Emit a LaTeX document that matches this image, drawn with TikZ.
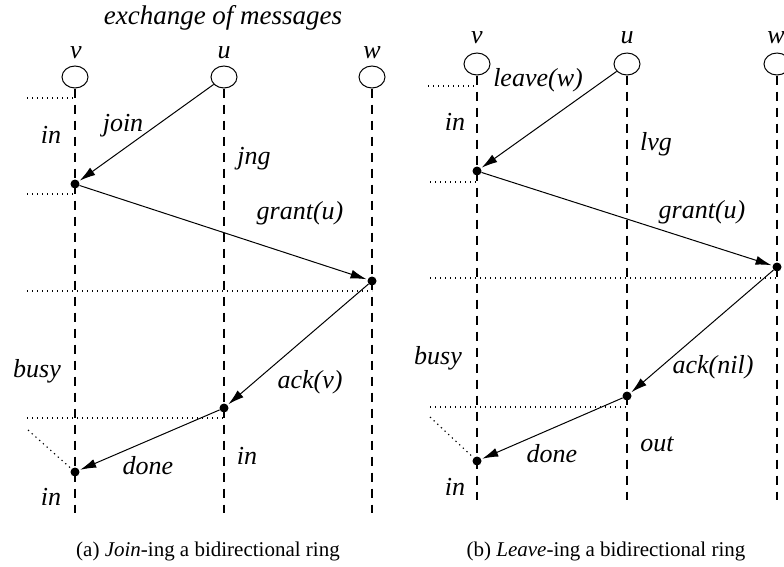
\documentclass[tikz,border=0pt]{standalone}
\usepackage{fontspec}
\setmainfont{Liberation Serif}
\usetikzlibrary{arrows.meta,shapes.geometric}
\begin{document}
\begin{tikzpicture}[x=1pt,y=-1pt,
  lbl/.style={font=\fontsize{26}{29}\selectfont\itshape, inner sep=0pt},
  ttl/.style={font=\fontsize{27}{30}\selectfont\itshape, inner sep=0pt},
  captext/.style={font=\fontsize{21}{24}\selectfont, inner sep=0pt, anchor=base},
  proc/.style={draw, ellipse, minimum width=26pt, minimum height=22pt, inner sep=0pt, line width=1pt},
  evt/.style={circle, fill=black, minimum size=9pt, inner sep=0pt},
  life/.style={dashed, dash pattern=on 9pt off 7pt, line width=1.2pt},
  tline/.style={dotted, dash pattern=on 1.3pt off 3.7pt, line width=1.1pt},
  msg/.style={-{Latex[length=16pt,width=9pt]}, line width=1pt, shorten >=1pt}
]
\useasboundingbox (0,0) rectangle (784,566);
\begin{scope}
\clip (0,0) rectangle (784,566);

% ---------- panel (a) ----------
\node[ttl] (title) at (223,18) {exchange of messages};
\node[lbl] (lv) at (76,53) {v};
\node[lbl] (lu) at (224,53) {u};
\node[lbl] (lw) at (372,53) {w};
\node[proc] (av) at (75,77) {};
\node[proc] (au) at (224,77) {};
\node[proc] (aw) at (372,77) {};
\coordinate (avb) at (75,513);
\coordinate (aub) at (224,513);
\coordinate (awb) at (372,513);
\draw[life] (av.south) -- (avb);
\draw[life] (au.south) -- (aub);
\draw[life] (aw.south) -- (awb);

\node[evt] (a1) at (75,184) {};
\node[evt] (a2) at (372,281) {};
\node[evt] (a3) at (224,408) {};
\node[evt] (a4) at (75,472) {};

\coordinate (at1) at (27,98);
\coordinate (at2) at (27,194);
\coordinate (at3) at (27,291);
\coordinate (at4) at (27,418);
\coordinate (at5) at (28,430);
\draw[tline] (at1) -- (75,98);
\draw[tline] (at2) -- (75,194);
\draw[tline] (at3) -- (372,291);
\draw[tline] (at4) -- (224,418);
\draw[tline] (at5) -- (a4);

\draw[msg] (au) -- (a1);
\draw[msg] (a1) -- (a2);
\draw[msg] (a2) -- (a3);
\draw[msg] (a3) -- (a4);

\node[lbl] (ain1) at (51,135) {in};
\node[lbl] (ajoin) at (123,126) {join};
\node[lbl] (ajng) at (254,159) {jng};
\node[lbl] (agrant) at (300,213) {grant(u)};
\node[lbl] (abusy) at (37,371) {busy};
\node[lbl] (aack) at (310,382) {ack(v)};
\node[lbl] (adone) at (148,466) {done};
\node[lbl] (ain2) at (247,456) {in};
\node[lbl] (ain3) at (51,497) {in};

\node[captext] (capa) at (208,556) {(a) \textit{Join}-ing a bidirectional ring};

% ---------- panel (b) ----------
\node[lbl] (lv2) at (477,38) {v};
\node[lbl] (lu2) at (627,38) {u};
\node[lbl] (lw2) at (776,38) {w};
\node[proc] (bv) at (477,64) {};
\node[proc] (bu) at (627,64) {};
\node[proc] (bw) at (777,64) {};
\coordinate (bvb) at (477,500);
\coordinate (bub) at (627,500);
\coordinate (bwb) at (777,500);
\draw[life] (bv.south) -- (bvb);
\draw[life] (bu.south) -- (bub);
\draw[life] (bw.south) -- (bwb);

\node[evt] (b1) at (477,171) {};
\node[evt] (b2) at (777,267) {};
\node[evt] (b3) at (627,396) {};
\node[evt] (b4) at (477,461) {};

\coordinate (bt1) at (428,86);
\coordinate (bt2) at (430,182);
\coordinate (bt3) at (430,278);
\coordinate (bt4) at (430,407);
\coordinate (bt5) at (430,417);
\draw[tline] (bt1) -- (477,86);
\draw[tline] (bt2) -- (477,182);
\draw[tline] (bt3) -- (777,278);
\draw[tline] (bt4) -- (627,407);
\draw[tline] (bt5) -- (b4);

\draw[msg] (bu) -- (b1);
\draw[msg] (b1) -- (b2);
\draw[msg] (b2) -- (b3);
\draw[msg] (b3) -- (b4);

\node[lbl] (bleave) at (538,80) {leave(w)};
\node[lbl] (bin1) at (455,122) {in};
\node[lbl] (blvg) at (656,144) {lvg};
\node[lbl] (bgrant) at (702,212) {grant(u)};
\node[lbl] (bbusy) at (438,358) {busy};
\node[lbl] (back) at (713,367) {ack(nil)};
\node[lbl] (bdone) at (552,454) {done};
\node[lbl] (bout) at (657,444) {out};
\node[lbl] (bin2) at (455,487) {in};

\node[captext] (capb) at (606,556) {(b) \textit{Leave}-ing a bidirectional ring};
\end{scope}
\end{tikzpicture}
\end{document}
